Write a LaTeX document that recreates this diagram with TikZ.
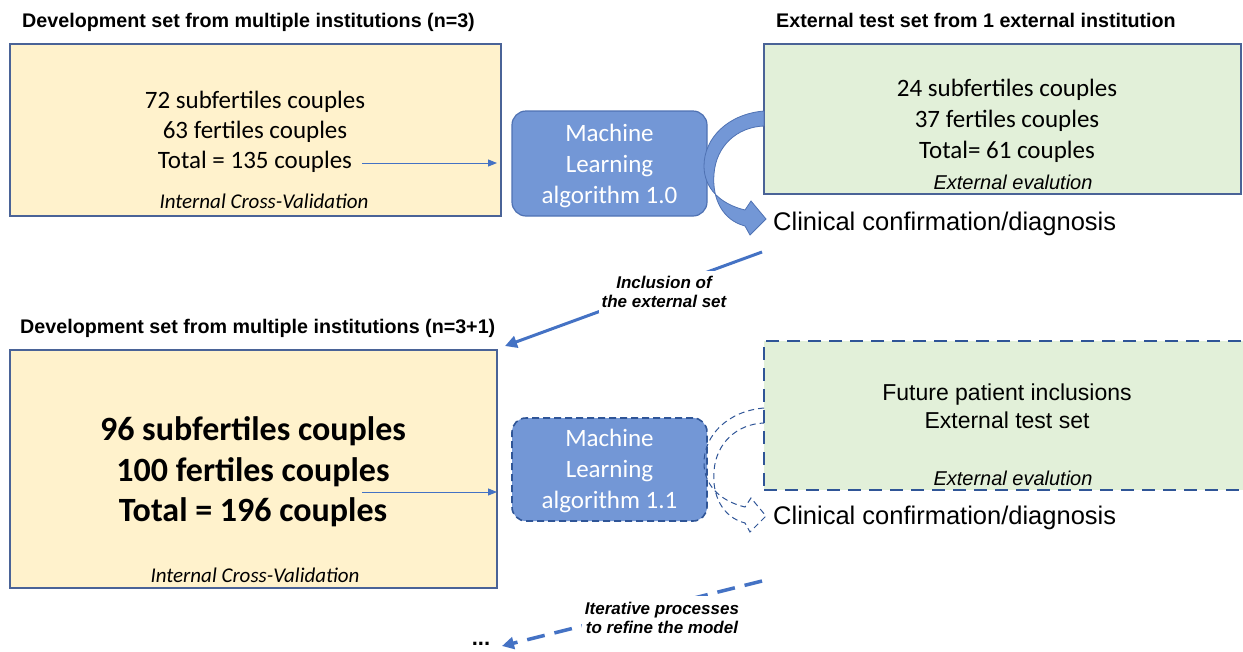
\documentclass[tikz,border=0pt]{standalone}
\usepackage{fontspec}
\setmainfont{Liberation Sans}
\newfontfamily\calfont{Carlito}
\usetikzlibrary{arrows.meta}
\definecolor{yfill}{HTML}{FFF2CC}
\definecolor{gfill}{HTML}{E2F0D9}
\definecolor{bordc}{HTML}{4A6397}
\definecolor{mlfill}{HTML}{7397D6}
\definecolor{mlbord}{HTML}{4F72B3}
\definecolor{arrblue}{HTML}{4472C4}
\definecolor{dashblue}{HTML}{2F5597}
\tikzset{
  title/.style={font=\fontsize{19.7}{23}\selectfont\bfseries, anchor=west, inner sep=0pt},
  ybox/.style={draw=bordc, fill=yfill, line width=1.2pt, inner sep=0pt},
  gbox/.style={draw=bordc, fill=gfill, line width=1.2pt, inner sep=0pt},
  gboxdash/.style={draw=dashblue, fill=gfill, line width=2.8pt, dash pattern=on 13pt off 8pt, inner sep=0pt},
  mlbox/.style={draw=mlbord, fill=mlfill, line width=1.2pt, rounded corners=14pt, inner sep=0pt},
  mlboxdash/.style={draw=dashblue, fill=mlfill, line width=1.6pt, dash pattern=on 7pt off 4pt, rounded corners=14pt, inner sep=0pt},
  mltext/.style={font=\calfont\fontsize{25}{31}\selectfont, text=white, align=center, inner sep=0pt},
  caltext/.style={font=\calfont\fontsize{25}{30}\selectfont, align=center, inner sep=0pt},
  calbig/.style={font=\calfont\fontsize{34}{40.5}\selectfont\bfseries, align=center, inner sep=0pt},
  calital/.style={font=\calfont\fontsize{21}{24}\selectfont\itshape, inner sep=0pt},
  arialital/.style={font=\fontsize{20}{24}\selectfont\itshape, inner sep=0pt},
  ariatext/.style={font=\fontsize{23}{28}\selectfont, align=center, inner sep=0pt},
  clin/.style={font=\fontsize{25.5}{30}\selectfont, anchor=west, inner sep=0pt},
  lbl/.style={font=\fontsize{17}{19.5}\selectfont\bfseries\itshape, align=center, fill=white, inner xsep=3pt, inner ysep=5pt},
  thinarr/.style={draw=arrblue, line width=0.9pt, -{Triangle[length=9pt,width=7pt]}},
  bigarr/.style={draw=arrblue, line width=3pt, -{Triangle[length=12pt,width=12pt]}},
}
\begin{document}
\begin{tikzpicture}[x=1pt,y=-1pt]
\useasboundingbox (0,0) rectangle (1243,651);

% ---------- top row ----------
\node[title] (t1) at (22,22) {Development set from multiple institutions (n=3)};
\node[title] (t2) at (776,20) {External test set from 1 external institution};

\node[ybox, minimum width=491pt, minimum height=172pt] (box1) at (255.5,130) {};
\node[caltext] (box1txt) at (255,132) {72 subfertiles couples\\63 fertiles couples\\Total = 135 couples};
\node[calital] (box1cv) at (264,201) {Internal Cross-Validation};

\node[mlbox, minimum width=195pt, minimum height=105pt] (ml1) at (609.5,163.5) {};
\node[mltext] (ml1txt) at (609.5,166) {Machine\\Learning\\algorithm 1.0};

\node[gbox, minimum width=477pt, minimum height=150pt] (g1) at (1002.5,119) {};
\node[caltext, font=\calfont\fontsize{25}{31}\selectfont] (g1txt) at (1007,121) {24 subfertiles couples\\37 fertiles couples\\Total= 61 couples};
\node[arialital] (g1ev) at (1013,182) {External evalution};

\coordinate (a1s) at (362,163);
\coordinate (a1e) at (497,163);
\draw[thinarr] (a1s) -- (a1e);

% curved block arrow
\fill[mlfill, draw=mlbord, line width=0.8pt]
  (764,111) .. controls (728,114) and (704,138) .. (704,166)
  .. controls (704,188) and (720,204) .. (745,210)
  -- (751,201) -- (766,219) -- (750,235) -- (745,226)
  .. controls (722,220) and (712,198) .. (714,174)
  .. controls (716,146) and (737,127) .. (764,126) -- cycle;

\node[clin] (clin1) at (773,224) {Clinical confirmation/diagnosis};

% inclusion arrow
\coordinate (i1) at (762,252);
\coordinate (i2) at (505,346);
\draw[bigarr] (i1) -- (i2);
\node[lbl] (incl) at (664,292) {Inclusion of\\the external set};

% ---------- bottom row ----------
\node[title] (t3) at (20,328) {Development set from multiple institutions (n=3+1)};

\node[ybox, minimum width=487pt, minimum height=238pt] (box2) at (253.5,469) {};
\node[calbig] (box2txt) at (253,472) {96 subfertiles couples\\100 fertiles couples\\Total = 196 couples};
\node[calital] (box2cv) at (255,575) {Internal Cross-Validation};

\node[mlboxdash, minimum width=195pt, minimum height=103pt] (ml2) at (609.5,469.5) {};
\node[mltext] (ml2txt) at (609.5,471) {Machine\\Learning\\algorithm 1.1};

\node[gboxdash, minimum width=500pt, minimum height=149pt] (g2) at (1014,415.5) {};
\node[ariatext] (g2txt) at (1007,406) {Future patient inclusions\\External test set};
\node[arialital] (g2ev) at (1013,478) {External evalution};

\coordinate (a2s) at (362,492);
\coordinate (a2e) at (497,492);
\draw[thinarr] (a2s) -- (a2e);

\begin{scope}[shift={(0,297)}]
\draw[dashblue, line width=1pt, dash pattern=on 6pt off 4pt]
  (764,111) .. controls (728,114) and (704,138) .. (704,166)
  .. controls (704,188) and (720,204) .. (745,210)
  -- (751,201) -- (766,219) -- (750,235) -- (745,226)
  .. controls (722,220) and (712,198) .. (714,174)
  .. controls (716,146) and (737,127) .. (764,126);
\end{scope}

\node[clin] (clin2) at (773,518) {Clinical confirmation/diagnosis};

% iterative arrow
\coordinate (r1) at (762,581);
\coordinate (r2) at (502,646);
\draw[bigarr, line width=3.5pt, dash pattern=on 18pt off 10pt] (r1) -- (r2);
\node[lbl, inner ysep=6pt] (iter) at (662,618) {Iterative processes\\to refine the model};

\node[font=\fontsize{22}{26}\selectfont\bfseries, inner sep=0pt, anchor=base] (dots) at (481,645) {...};
\end{tikzpicture}
\end{document}
